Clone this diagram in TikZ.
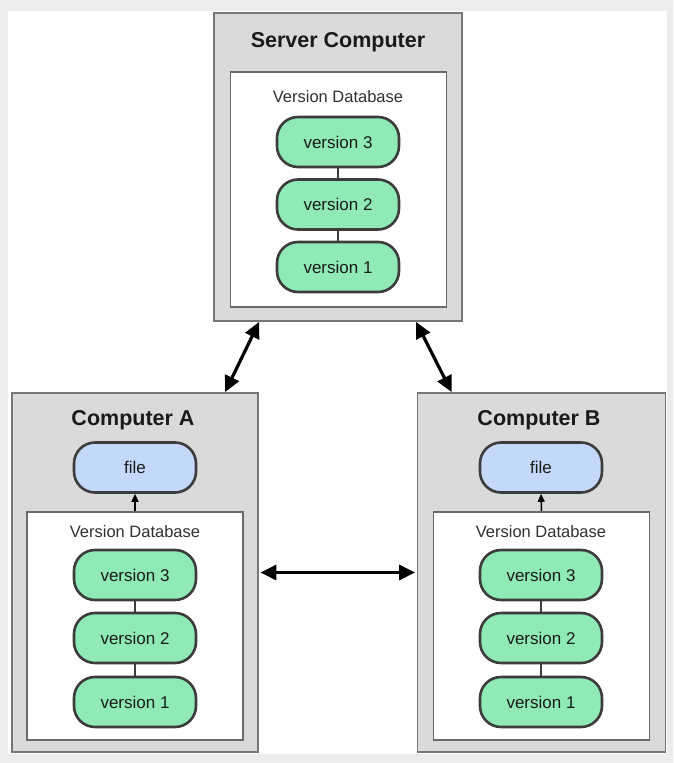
\documentclass[tikz,border=0pt]{standalone}
\usepackage{fontspec}
\setmainfont{Liberation Sans}
\usetikzlibrary{arrows.meta}
\definecolor{bggray}{HTML}{ECECEC}
\definecolor{boxgray}{HTML}{DADADA}
\definecolor{boxedge}{HTML}{767676}
\definecolor{pillgreen}{HTML}{8FEAB6}
\definecolor{pillblue}{HTML}{C4D8FA}
\definecolor{pilledge}{HTML}{3C3C3C}
\definecolor{txt}{HTML}{1A1A1A}
\tikzset{
  computer/.style={draw=boxedge, fill=boxgray, line width=1.8pt, inner sep=0pt},
  dbbox/.style={draw=boxedge!90!black, fill=white, line width=1.6pt, inner sep=0pt},
  pill/.style={draw=pilledge, line width=2.6pt, rounded corners=21pt, minimum width=122pt, minimum height=50pt, inner sep=0pt, font=\fontsize{17}{19}\selectfont, text=txt},
  vpill/.style={pill, fill=pillgreen},
  fpill/.style={pill, fill=pillblue},
  title/.style={font=\fontsize{21.5}{24}\selectfont\bfseries, text=txt, inner sep=0pt},
  dblabel/.style={font=\fontsize{16.5}{18}\selectfont, text=txt!90!white, inner sep=0pt},
  link/.style={draw=pilledge, line width=1.5pt},
  biarrow/.style={draw=black, line width=3.2pt, {Triangle[length=16pt,width=15pt]}-{Triangle[length=16pt,width=15pt]}},
  smallarrow/.style={draw=black, line width=1.5pt, -{Triangle[length=8pt,width=7pt]}}
}
\begin{document}
\begin{tikzpicture}[x=1pt, y=-1pt]
\useasboundingbox (0,0) rectangle (673,763);
\fill[bggray] (0,0) rectangle (673,763);
\fill[white] (8,11) rectangle (667,754);

% Server
\node[computer, minimum width=248pt, minimum height=308pt] (srv) at (338,167) {};
\node[title] (srvt) at (338,42) {Server Computer};
\node[dbbox, minimum width=216pt, minimum height=235pt] (srvdb) at (338.5,189.5) {};
\node[dblabel] (srvdbl) at (338,97) {Version Database};
\node[vpill] (s3) at (338,142) {version 3};
\node[vpill] (s2) at (338,204.5) {version 2};
\node[vpill] (s1) at (338,267) {version 1};
\draw[link] (s3) -- (s2);
\draw[link] (s2) -- (s1);

% Computer A
\node[computer, minimum width=246pt, minimum height=359pt] (A) at (135,572.5) {};
\node[title] (At) at (133,420) {Computer A};
\node[fpill] (Af) at (135,467.5) {file};
\node[dbbox, minimum width=216pt, minimum height=228pt] (Adb) at (135,626) {};
\node[dblabel] (Adbl) at (135,532) {Version Database};
\node[vpill] (A3) at (135,575) {version 3};
\node[vpill] (A2) at (135,638) {version 2};
\node[vpill] (A1) at (135,702) {version 1};
\draw[link] (A3) -- (A2);
\draw[link] (A2) -- (A1);
\draw[smallarrow] (Adb.north) -- (Af.south);

% Computer B
\node[computer, minimum width=248pt, minimum height=359pt] (B) at (541.5,572.5) {};
\node[title] (Bt) at (539,420) {Computer B};
\node[fpill] (Bf) at (541,467.5) {file};
\node[dbbox, minimum width=216pt, minimum height=228pt] (Bdb) at (541.5,626) {};
\node[dblabel] (Bdbl) at (541,532) {Version Database};
\node[vpill] (B3) at (541,575) {version 3};
\node[vpill] (B2) at (541,638) {version 2};
\node[vpill] (B1) at (541,702) {version 1};
\draw[link] (B3) -- (B2);
\draw[link] (B2) -- (B1);
\draw[smallarrow] (Bdb.north) -- (Bf.south);

% Connectors
\draw[biarrow] ([xshift=46pt]srv.south west) -- ([xshift=214pt]A.north west);
\draw[biarrow] ([xshift=203pt]srv.south west) -- ([xshift=35pt]B.north west);
\draw[biarrow] ([xshift=1.5pt]A.east) -- ([xshift=-1.5pt]B.west);
\end{tikzpicture}
\end{document}
